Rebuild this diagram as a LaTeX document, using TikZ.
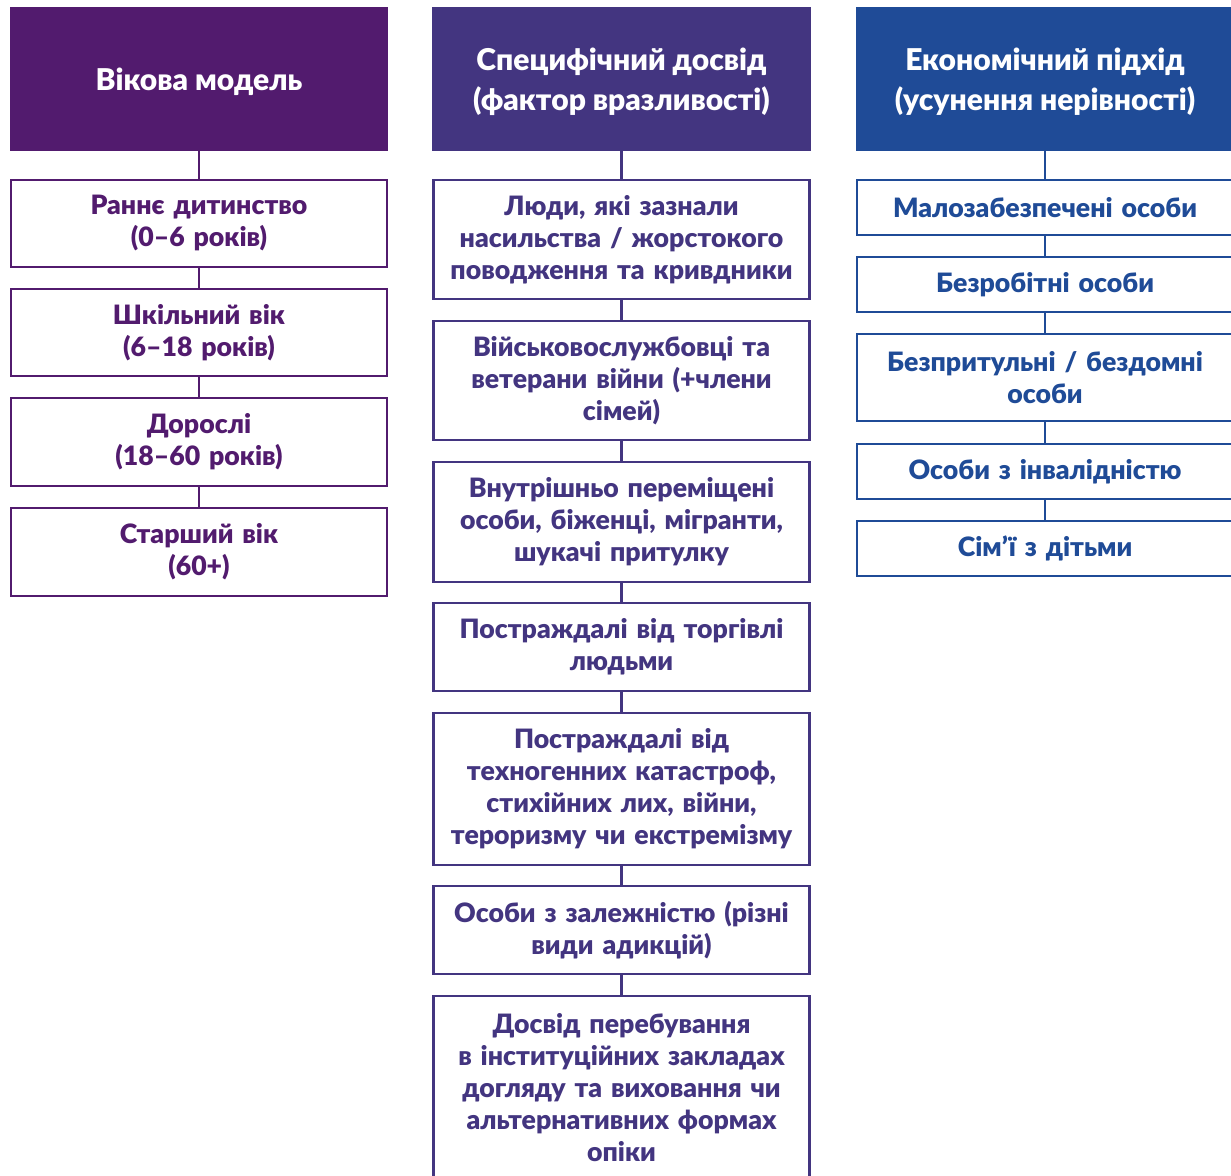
\documentclass[tikz,border=0pt]{standalone}
\usepackage{fontspec}
\IfFontExistsTF{Lato Black}
  {\setmainfont{Lato}[BoldFont={Lato Black}]}
  {\setmainfont{Lato}[BoldFeatures={FakeBold=1.2}]}
\definecolor{agecol}{HTML}{521B6E}
\definecolor{expcol}{HTML}{433580}
\definecolor{ecocol}{HTML}{1F4B97}

\begin{document}
\begin{tikzpicture}[x=0.75pt,y=-0.75pt,
    head/.style={rectangle, inner sep=0pt, minimum width=284pt, text=white,
      align=center, text depth=-3pt, font=\bfseries\fontsize{22.5}{30}\selectfont},
    item/.style={rectangle, draw=#1, fill=white, text=#1, line width=1.9pt,
      inner sep=0pt, minimum width=282pt, text width=280pt, align=center,
      font=\bfseries\fontsize{20}{24}\selectfont},
    link/.style={draw=#1, line width=1.9pt}]
\useasboundingbox (0,0) rectangle (1231,1175);
\clip (0,0) rectangle (1231,1175);

% headers
\node[head, fill=agecol, minimum height=108pt] (age) at (199,79) {Вікова модель};
\node[head, fill=expcol, minimum height=108pt] (exp) at (621.5,79) {Специфічний досвід\\(фактор вразливості)};
\node[head, fill=ecocol, minimum height=108pt] (eco) at (1045,79) {Економічний підхід\\(усунення нерівності)};

% age model
\node[item=agecol, minimum height=65pt] (age1) at (199,223.5) {Раннє дитинство\\(0–6 років)};
\node[item=agecol, minimum height=65pt] (age2) at (199,332.5) {Шкільний вік\\(6–18 років)};
\node[item=agecol, minimum height=66pt] (age3) at (199,442) {Дорослі\\(18–60 років)};
\node[item=agecol, minimum height=66pt] (age4) at (199,552) {Старший вік\\(60+)};

% specific experience
\node[item=expcol, minimum height=89pt] (exp1) at (621.5,239.5) {Люди, які зазнали\\насильства / жорстокого\\поводження та кривдники};
\node[item=expcol, minimum height=89pt] (exp2) at (621.5,380.5) {Військовослужбовці та\\ветерани війни (+члени\\сімей)};
\node[item=expcol, minimum height=90pt] (exp3) at (621.5,522) {Внутрішньо переміщені\\особи, біженці, мігранти,\\шукачі притулку};
\node[item=expcol, minimum height=66pt] (exp4) at (621.5,647) {Постраждалі від торгівлі\\людьми};
\node[item=expcol, minimum height=114pt] (exp5) at (621.5,789) {Постраждалі від\\техногенних катастроф,\\стихійних лих, війни,\\тероризму чи екстремізму};
\node[item=expcol, minimum height=66pt] (exp6) at (621.5,930) {Особи з залежністю (різні\\види адикцій)};
\node[item=expcol, minimum height=138pt] (exp7) at (621.5,1088) {Досвід перебування\\в інституційних закладах\\догляду та виховання чи\\альтернативних формах\\опіки};

% economic approach
\node[item=ecocol, minimum height=41pt] (eco1) at (1045,207.5) {Малозабезпечені особи};
\node[item=ecocol, minimum height=41pt] (eco2) at (1045,284.5) {Безробітні особи};
\node[item=ecocol, minimum height=65pt] (eco3) at (1045,377.5) {Безпритульні / бездомні\\особи};
\node[item=ecocol, minimum height=41pt] (eco4) at (1045,471.5) {Особи з інвалідністю};
\node[item=ecocol, minimum height=41pt] (eco5) at (1045,548.5) {Сім’ї з дітьми};

% links
\draw[link=agecol] (age) -- (age1) (age1) -- (age2) (age2) -- (age3) (age3) -- (age4);
\draw[link=expcol] (exp) -- (exp1) (exp1) -- (exp2) (exp2) -- (exp3) (exp3) -- (exp4)
  (exp4) -- (exp5) (exp5) -- (exp6) (exp6) -- (exp7);
\draw[link=ecocol] (eco) -- (eco1) (eco1) -- (eco2) (eco2) -- (eco3) (eco3) -- (eco4) (eco4) -- (eco5);
\end{tikzpicture}
\end{document}
